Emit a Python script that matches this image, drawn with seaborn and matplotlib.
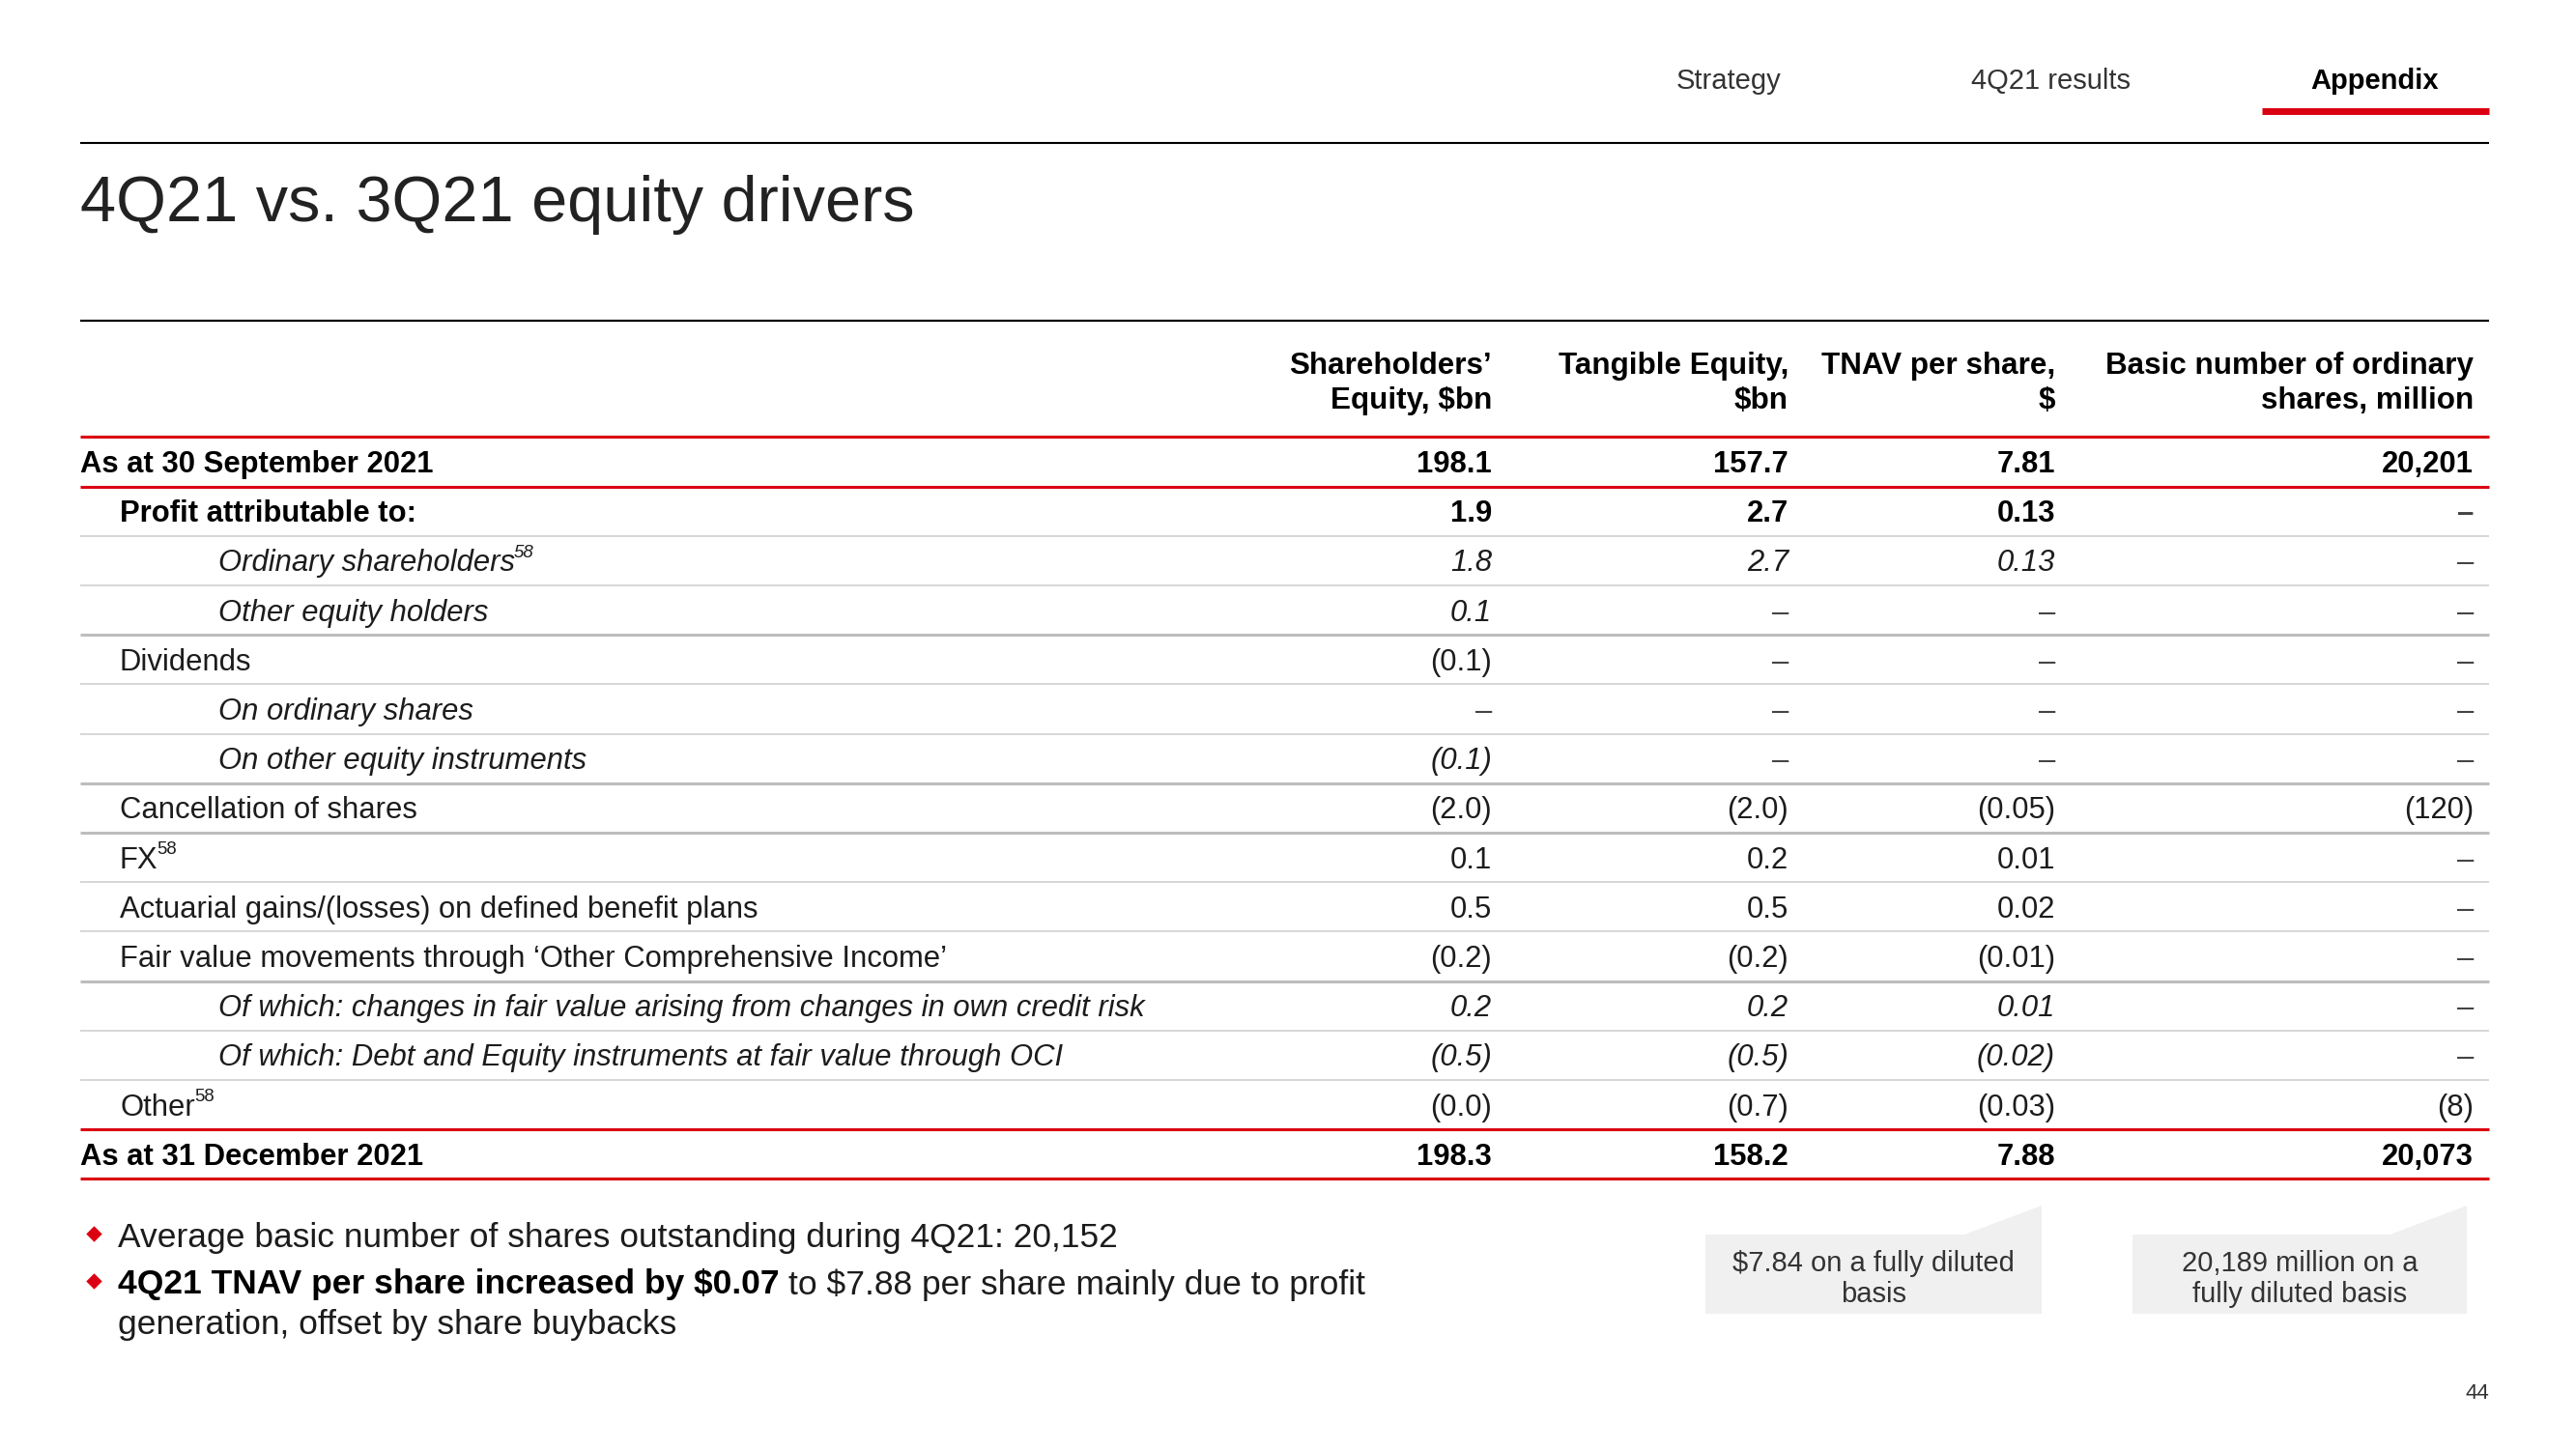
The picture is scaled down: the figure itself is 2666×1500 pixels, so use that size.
import matplotlib
matplotlib.use("Agg")
import matplotlib.pyplot as plt
from matplotlib import font_manager
from matplotlib.patches import Polygon
import seaborn as sns

sns.set_theme(style="white")

# condensed face if we have one, otherwise plain Liberation Sans
names = {f.name for f in font_manager.fontManager.ttflist}
FONT = "Liberation Sans Narrow" if "Liberation Sans Narrow" in names else "Liberation Sans"
plt.rcParams["font.family"] = [FONT, "DejaVu Sans"]

# %% data
nav_items = ["Strategy", "4Q21 results", "Appendix"]
title = "4Q21 vs. 3Q21 equity drivers"
col_headers = [
    "Shareholders’\nEquity, $bn",
    "Tangible Equity,\n$bn",
    "TNAV per share,\n$",
    "Basic number of ordinary\nshares, million",
]
row_labels = [
    "As at 30 September 2021",
    "Profit attributable to:",
    "Ordinary shareholders",
    "Other equity holders",
    "Dividends",
    "On ordinary shares",
    "On other equity instruments",
    "Cancellation of shares",
    "FX",
    "Actuarial gains/(losses) on defined benefit plans",
    "Fair value movements through ‘Other Comprehensive Income’",
    "Of which: changes in fair value arising from changes in own credit risk",
    "Of which: Debt and Equity instruments at fair value through OCI",
    "Other",
    "As at 31 December 2021",
]
row_notes = ["", "", "58", "", "", "", "", "", "58", "", "", "", "", "58", ""]
row_level = [0, 1, 2, 2, 1, 2, 2, 1, 1, 1, 1, 2, 2, 1, 0]
row_style = ["bold", "bold", "italic", "italic", "normal", "italic", "italic",
             "normal", "normal", "normal", "normal", "italic", "italic",
             "normal", "bold"]

shareholders_equity = ["198.1", "1.9", "1.8", "0.1", "(0.1)", "–", "(0.1)", "(2.0)",
                       "0.1", "0.5", "(0.2)", "0.2", "(0.5)", "(0.0)", "198.3"]
tangible_equity = ["157.7", "2.7", "2.7", "–", "–", "–", "–", "(2.0)",
                   "0.2", "0.5", "(0.2)", "0.2", "(0.5)", "(0.7)", "158.2"]
tnav_per_share = ["7.81", "0.13", "0.13", "–", "–", "–", "–", "(0.05)",
                  "0.01", "0.02", "(0.01)", "0.01", "(0.02)", "(0.03)", "7.88"]
ordinary_shares = ["20,201", "–", "–", "–", "–", "–", "–", "(120)",
                   "–", "–", "–", "–", "–", "(8)", "20,073"]

bullet_1 = "Average basic number of shares outstanding during 4Q21: 20,152"
bullet_2_bold = "4Q21 TNAV per share increased by $0.07"
bullet_2_rest = "to $7.88 per share mainly due to profit"
bullet_2_wrap = "generation, offset by share buybacks"
box_notes = ["$7.84 on a fully diluted\nbasis", "20,189 million on a\nfully diluted basis"]
page_number = "44"

# %% layout (pixel coordinates, 1 unit = 1 px)
W, H = 2666, 1500
RED = "#db0011"
TXT = "#1c1c1c"
X0, X1 = 83, 2576
ROW0, ROW_H = 478, 51.2
COL_RIGHT = [1544, 1851, 2127, 2560]
INDENT = [83, 124, 226]
RULE_AFTER = ["red", "thin", "thin", "thick", "thin", "thin", "thick", "thick",
              "thin", "thin", "thick", "thin", "thin", "red", "red"]
FS = 22.3
DY = 3  # text sits a bit low in the source

fig = plt.figure(figsize=(W / 100, H / 100), dpi=100)
ax = fig.add_axes([0, 0, 1, 1])
ax.set_xlim(0, W)
ax.set_ylim(H, 0)
ax.axis("off")
renderer = fig.canvas.get_renderer()


def right_edge(t):
    bb = t.get_window_extent(renderer)
    return ax.transData.inverted().transform((bb.x1, bb.y1))[0]


# navigation
for name, xc in zip(nav_items, [1789, 2123, 2458]):
    bold = name == "Appendix"
    ax.text(xc, 84, name, ha="center", va="center", fontsize=21,
            color="black" if bold else "#333333", fontweight="bold" if bold else "normal")
ax.plot([2341, 2576], [115, 115], color=RED, lw=5, solid_capstyle="butt")
ax.plot([X0, X1], [148, 148], color="black", lw=1.5, solid_capstyle="butt")

ax.text(X0, 212, title, ha="left", va="center", fontsize=48, color="#222222")

# table header
ax.plot([X0, X1], [332, 332], color="black", lw=1.6, solid_capstyle="butt")
for hdr, xr in zip(col_headers, COL_RIGHT):
    ax.text(xr, 397, hdr, ha="right", va="center", fontsize=22.6, fontweight="bold",
            color="black", linespacing=1.25, multialignment="right")
ax.plot([X0, X1], [ROW0 - ROW_H / 2, ROW0 - ROW_H / 2], color=RED, lw=2.2,
        solid_capstyle="butt")

# rows
columns = [shareholders_equity, tangible_equity, tnav_per_share, ordinary_shares]
for i, label in enumerate(row_labels):
    y = ROW0 + i * ROW_H
    style = row_style[i]
    weight = "bold" if style == "bold" else "normal"
    fstyle = "italic" if style == "italic" else "normal"
    color = "black" if style == "bold" else TXT
    t = ax.text(INDENT[row_level[i]], y + DY, label, ha="left", va="center", fontsize=FS,
                fontweight=weight, fontstyle=fstyle, color=color)
    if row_notes[i]:
        ax.text(right_edge(t) - 1, y - 8, row_notes[i], ha="left", va="center",
                fontsize=FS * 0.6, fontstyle=fstyle, color=color)
    for col, xr in zip(columns, COL_RIGHT):
        val = col[i]
        ax.text(xr, y + DY, val, ha="right", va="center", fontsize=FS, fontweight=weight,
                fontstyle=fstyle if val != "–" else "normal",
                color=color if val != "–" else "#444444")
    yl = y + ROW_H / 2
    rule = RULE_AFTER[i]
    if rule == "red":
        ax.plot([X0, X1], [yl, yl], color=RED, lw=2.2, solid_capstyle="butt")
    elif rule == "thick":
        ax.plot([X0, X1], [yl, yl], color="#bdbdbd", lw=2.2, solid_capstyle="butt")
    else:
        ax.plot([X0, X1], [yl, yl], color="#cccccc", lw=1.1, solid_capstyle="butt")

# bullets
for yb in [1280, 1329]:
    ax.scatter([97], [yb - 3], marker="D", s=70, color=RED, linewidths=0)
ax.text(122, 1281, bullet_1, ha="left", va="center", fontsize=25.5, color=TXT)
tb = ax.text(122, 1330, bullet_2_bold, ha="left", va="center", fontsize=25.5,
             fontweight="bold", color="black")
ax.text(right_edge(tb) + 9, 1330, bullet_2_rest, ha="left", va="center",
        fontsize=25.5, color=TXT)
ax.text(122, 1371, bullet_2_wrap, ha="left", va="center", fontsize=25.5, color=TXT)

# callout boxes
for note, (bx0, bx1) in zip(box_notes, [(1765, 2113), (2207, 2553)]):
    tab_x = bx0 + 0.77 * (bx1 - bx0)
    poly = Polygon([(bx0, 1360), (bx0, 1278), (tab_x, 1278), (bx1, 1248), (bx1, 1360)],
                   closed=True, facecolor="#f0f0f0", edgecolor="none")
    ax.add_patch(poly)
    ax.text((bx0 + bx1) / 2, 1324, note, ha="center", va="center", fontsize=21,
            color="#333333", linespacing=1.2)

ax.text(X1, 1443, page_number, ha="right", va="center", fontsize=16, color="#333333")

fig.savefig("out.png", dpi=100)
